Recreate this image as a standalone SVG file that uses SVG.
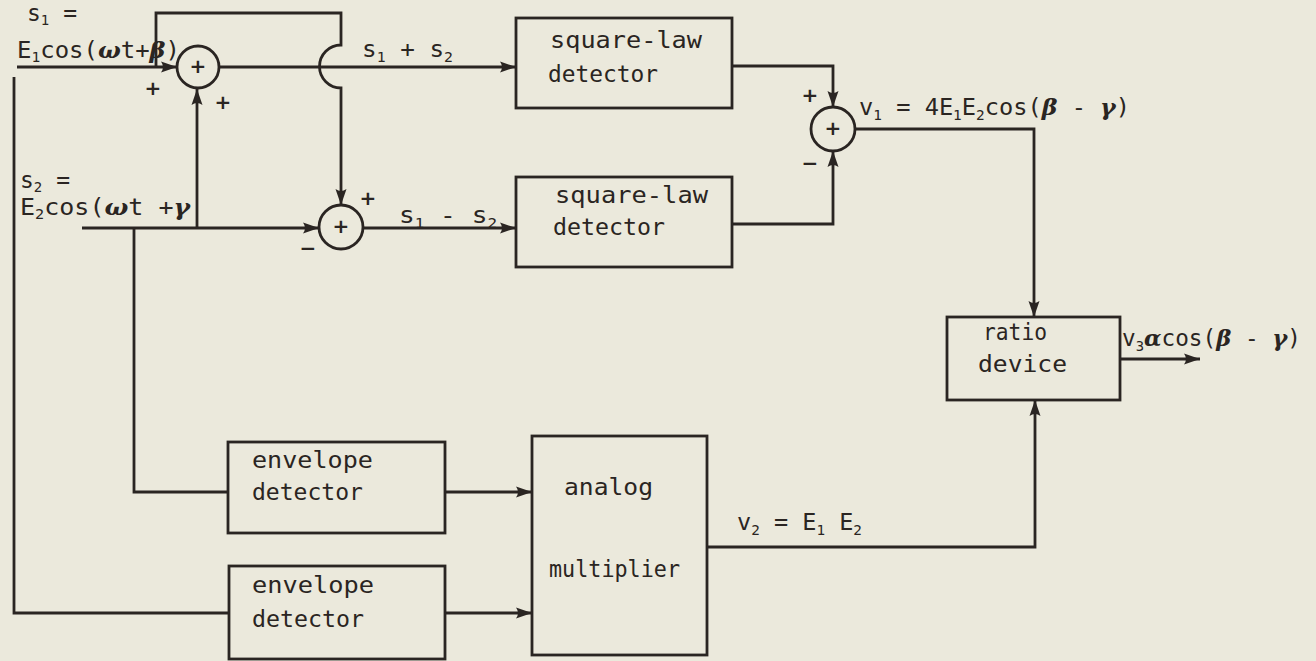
<svg xmlns="http://www.w3.org/2000/svg" width="1316" height="661" viewBox="0 0 1316 661">
<style>
.bg{fill:#ebe9dc}
.box{fill:none;stroke:#2a2522;stroke-width:2.8}
.ln{fill:none;stroke:#2a2522;stroke-width:2.8;stroke-linejoin:miter}
.arr{marker-end:url(#ah)}
text{font-family:"DejaVu Sans Mono","Liberation Mono",monospace;font-size:23px;fill:#2a2522}
.sg{font-family:"DejaVu Sans","Liberation Sans",sans-serif;font-size:20px;font-weight:bold;text-anchor:middle;dominant-baseline:central}
.sub{font-size:14px}
.gk{font-family:"DejaVu Serif","Liberation Serif",serif;font-style:italic;font-weight:bold}
</style>
<defs>
<marker id="ah" markerUnits="userSpaceOnUse" markerWidth="17" markerHeight="12" refX="16" refY="6" orient="auto">
<path d="M0,0.5 L16,6 L0,11.5 Q4,6 0,0.5 z" fill="#2a2522"/>
</marker>
</defs>
<rect class="bg" x="0" y="0" width="1316" height="661"/>

<g id="connectors">
<path class="ln arr" d="M17,67 H177"/>
<path class="ln arr" d="M156,67 V13 H341 V45 A21.5,21.5 0 0 0 341,88 V205"/>
<path class="ln arr" d="M220,67 H516"/>
<path class="ln arr" d="M82,228 H319"/>
<path class="ln arr" d="M197,228 V89"/>
<path class="ln" d="M134,228 V492 H228"/>
<path class="ln" d="M14,77 V613 H229"/>
<path class="ln arr" d="M363,228 H516"/>
<path class="ln arr" d="M732,66 H833 V107"/>
<path class="ln arr" d="M732,224 H833 V151"/>
<path class="ln arr" d="M855,129 H1034 V317"/>
<path class="ln arr" d="M445,492 H532"/>
<path class="ln arr" d="M445,613 H532"/>
<path class="ln arr" d="M707,547 H1035 V400"/>
<path class="ln arr" d="M1120,359 H1200"/>
</g>

<g id="sum1">
<circle class="box" cx="198" cy="67" r="21"/>
<text class="sg" x="198" y="66">+</text>
<text class="sg" x="153" y="88">+</text>
<text class="sg" x="223" y="102">+</text>
</g>
<g id="sum2">
<circle class="box" cx="341" cy="227" r="22"/>
<text class="sg" x="341" y="226">+</text>
<text class="sg" x="368" y="198">+</text>
<text class="sg" x="308" y="248">−</text>
</g>
<g id="sum3">
<circle class="box" cx="833" cy="129" r="22"/>
<text class="sg" x="833" y="128">+</text>
<text class="sg" x="810" y="95">+</text>
<text class="sg" x="810" y="163">−</text>
</g>

<g id="sqlaw1">
<rect class="box" x="516" y="18" width="216" height="90"/>
<text x="550" y="48" textLength="152" lengthAdjust="spacingAndGlyphs">square-law</text>
<text x="548" y="82" textLength="110" lengthAdjust="spacingAndGlyphs">detector</text>
</g>
<g id="sqlaw2">
<rect class="box" x="516" y="177" width="216" height="90"/>
<text x="555" y="203" textLength="153" lengthAdjust="spacingAndGlyphs">square-law</text>
<text x="553" y="235" textLength="112" lengthAdjust="spacingAndGlyphs">detector</text>
</g>
<g id="env1">
<rect class="box" x="228" y="442" width="217" height="91"/>
<text x="252" y="468" textLength="121" lengthAdjust="spacingAndGlyphs">envelope</text>
<text x="252" y="500" textLength="111" lengthAdjust="spacingAndGlyphs">detector</text>
</g>
<g id="env2">
<rect class="box" x="229" y="566" width="216" height="93"/>
<text x="252" y="593" textLength="122" lengthAdjust="spacingAndGlyphs">envelope</text>
<text x="252" y="627" textLength="112" lengthAdjust="spacingAndGlyphs">detector</text>
</g>
<g id="multiplier">
<rect class="box" x="532" y="436" width="175" height="219"/>
<text x="564" y="495" textLength="89" lengthAdjust="spacingAndGlyphs">analog</text>
<text x="549" y="577" textLength="131" lengthAdjust="spacingAndGlyphs">multiplier</text>
</g>
<g id="ratio">
<rect class="box" x="947" y="317" width="173" height="83"/>
<text x="983" y="340" textLength="64" lengthAdjust="spacingAndGlyphs">ratio</text>
<text x="978" y="372" textLength="89" lengthAdjust="spacingAndGlyphs">device</text>
</g>

<g id="labels">
<text x="27" y="21">s<tspan class="sub" dy="4">1</tspan><tspan dy="-4"> =</tspan></text>
<text x="17" y="58" textLength="163" lengthAdjust="spacingAndGlyphs">E<tspan class="sub" dy="4">1</tspan><tspan dy="-4">cos(</tspan><tspan class="gk">ω</tspan>t+<tspan class="gk">β</tspan>)</text>
<text x="20" y="188">s<tspan class="sub" dy="4">2</tspan><tspan dy="-4"> =</tspan></text>
<text x="20" y="215" textLength="170" lengthAdjust="spacingAndGlyphs">E<tspan class="sub" dy="4">2</tspan><tspan dy="-4">cos(</tspan><tspan class="gk">ω</tspan>t +<tspan class="gk">γ</tspan></text>
<text x="362" y="57" textLength="91" lengthAdjust="spacingAndGlyphs">s<tspan class="sub" dy="5">1</tspan><tspan dy="-5"> + s</tspan><tspan class="sub" dy="5">2</tspan></text>
<text x="399" y="223" textLength="98" lengthAdjust="spacingAndGlyphs">s<tspan class="sub" dy="5">1</tspan><tspan dy="-5"> - s</tspan><tspan class="sub" dy="5">2</tspan></text>
<text x="859" y="115" textLength="271" lengthAdjust="spacingAndGlyphs">v<tspan class="sub" dy="5">1</tspan><tspan dy="-5"> = 4E</tspan><tspan class="sub" dy="5">1</tspan><tspan dy="-5">E</tspan><tspan class="sub" dy="5">2</tspan><tspan dy="-5">cos(</tspan><tspan class="gk">β</tspan> - <tspan class="gk">γ</tspan>)</text>
<text x="737" y="530" textLength="125" lengthAdjust="spacingAndGlyphs">v<tspan class="sub" dy="5">2</tspan><tspan dy="-5"> = E</tspan><tspan class="sub" dy="5">1</tspan><tspan dy="-5"> E</tspan><tspan class="sub" dy="5">2</tspan></text>
<text x="1122" y="346" textLength="179" lengthAdjust="spacingAndGlyphs">v<tspan class="sub" dy="5">3</tspan><tspan class="gk" dy="-5">α</tspan>cos(<tspan class="gk">β</tspan> - <tspan class="gk">γ</tspan>)</text>
</g>
</svg>
